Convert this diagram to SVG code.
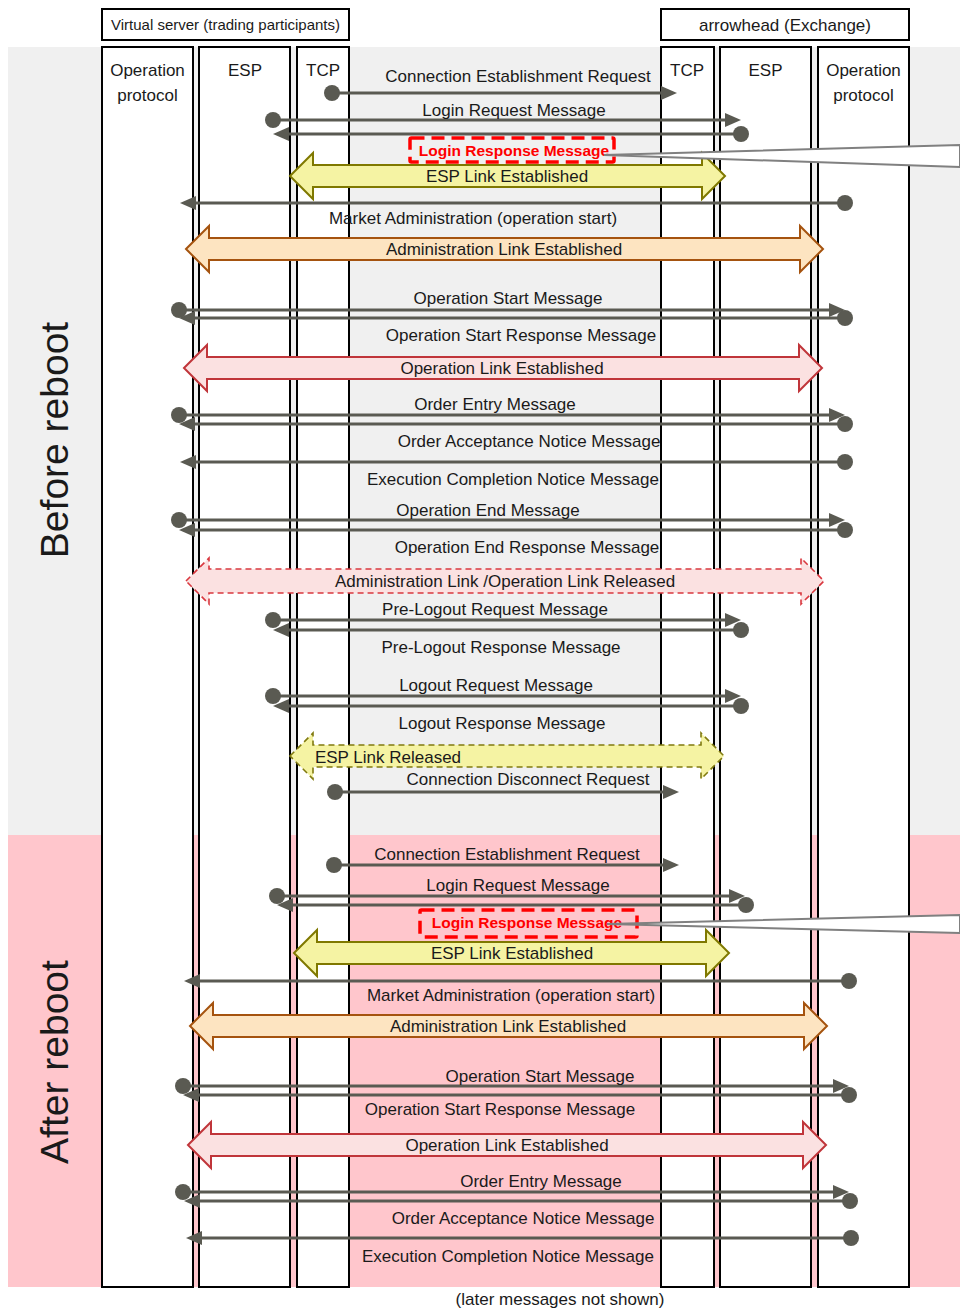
<svg xmlns="http://www.w3.org/2000/svg" width="960" height="1308" viewBox="0 0 960 1308">
  <style>
    text { font-family: "Liberation Sans", Arial, sans-serif; fill: #1a1a1a; }
    .msg { font-size: 17px; text-anchor: middle; }
    .lbl { font-size: 17px; text-anchor: middle; }
    .phase { font-size: 39px; text-anchor: middle; }
    .lane { fill: #ffffff; stroke: #000000; stroke-width: 2; }
    .hdr { fill: #ffffff; stroke: #000000; stroke-width: 2; }
    .line { stroke: #5a5a52; stroke-width: 3; fill: none; marker-start: url(#dot); marker-end: url(#tri); }
    .esp { fill: #f5f3a3; stroke: #7f7800; stroke-width: 2; }
    .adm { fill: #fde4c1; stroke: #a5530f; stroke-width: 2; }
    .opl { fill: #fbe1e1; stroke: #c0353a; stroke-width: 2; }
    .rel-op { fill: #fbe1e1; stroke: #d9383f; stroke-width: 1.6; stroke-dasharray: 6 4; }
    .rel-esp { fill: #f5f3a3; stroke: #807a10; stroke-width: 1.6; stroke-dasharray: 6 4; }
    .hl { fill: none; stroke: #ff0000; stroke-width: 3.5; stroke-dasharray: 13 7; }
    .hlt { font-size: 15.5px; font-weight: bold; fill: #ff0000; text-anchor: middle; }
    .callout { fill: #ffffff; stroke: #808080; stroke-width: 2; stroke-linejoin: miter; }
  </style>
  <defs>
    <marker id="tri" markerUnits="userSpaceOnUse" markerWidth="16" markerHeight="14" refX="6" refY="7" orient="auto">
      <path d="M0,0 L16,7 L0,14 Z" fill="#5a5a52"/>
    </marker>
    <marker id="dot" markerUnits="userSpaceOnUse" markerWidth="16" markerHeight="16" refX="8" refY="8" orient="auto">
      <circle cx="8" cy="8" r="8" fill="#5a5a52"/>
    </marker>
  </defs>

  <!-- phase backgrounds -->
  <g id="phases">
    <rect x="8" y="47" width="952" height="788" fill="#f0f0f0"/>
    <rect x="8" y="835" width="952" height="452" fill="#ffc6cc"/>
    <text class="phase" transform="translate(68,440) rotate(-90)">Before reboot</text>
    <text class="phase" transform="translate(68,1062) rotate(-90)">After reboot</text>
  </g>

  <!-- system headers -->
  <g id="participant-header">
    <rect class="hdr" x="102" y="9" width="247" height="31"/>
    <text x="225.5" y="30" style="font-size:15px;text-anchor:middle">Virtual server (trading participants)</text>
  </g>
  <g id="exchange-header">
    <rect class="hdr" x="661" y="9" width="248" height="31"/>
    <text x="785" y="31" style="font-size:17px;text-anchor:middle">arrowhead (Exchange)</text>
  </g>

  <!-- lanes -->
  <g id="lane-op-left">
    <rect class="lane" x="102" y="47" width="91" height="1240"/>
    <text class="lbl" x="147.5" y="76">Operation</text>
    <text class="lbl" x="147.5" y="101">protocol</text>
  </g>
  <g id="lane-esp-left">
    <rect class="lane" x="199" y="47" width="91" height="1240"/>
    <text class="lbl" x="245" y="76">ESP</text>
  </g>
  <g id="lane-tcp-left">
    <rect class="lane" x="297" y="47" width="52" height="1240"/>
    <text class="lbl" x="323" y="76">TCP</text>
  </g>
  <g id="lane-tcp-right">
    <rect class="lane" x="661" y="47" width="53" height="1240"/>
    <text class="lbl" x="687" y="76">TCP</text>
  </g>
  <g id="lane-esp-right">
    <rect class="lane" x="720" y="47" width="91" height="1240"/>
    <text class="lbl" x="765.5" y="76">ESP</text>
  </g>
  <g id="lane-op-right">
    <rect class="lane" x="818" y="47" width="91" height="1240"/>
    <text class="lbl" x="863.5" y="76">Operation</text>
    <text class="lbl" x="863.5" y="101">protocol</text>
  </g>

  <!-- link state bands -->
  <g id="links">
    <path class="esp" d="M290,176 L313,153 L313,165 L702,165 L702,153 L725,176 L702,199 L702,187 L313,187 L313,199 Z"/>
    <path class="adm" d="M186,249 L209,226 L209,238 L800,238 L800,226 L823,249 L800,272 L800,260 L209,260 L209,272 Z"/>
    <path class="opl" d="M184,368 L207,345 L207,357 L799,357 L799,345 L822,368 L799,391 L799,379 L207,379 L207,391 Z"/>
    <path class="rel-op" d="M186,581 L209,558 L209,569 L801,569 L801,558 L824,581 L801,604 L801,593 L209,593 L209,604 Z"/>
    <path class="rel-esp" d="M290,756 L313,733 L313,745 L701,745 L701,733 L724,756 L701,779 L701,767 L313,767 L313,779 Z"/>
    <path class="esp" d="M294,953 L317,930 L317,942 L706,942 L706,930 L729,953 L706,976 L706,964 L317,964 L317,976 Z"/>
    <path class="adm" d="M190,1026 L213,1003 L213,1015 L804,1015 L804,1003 L827,1026 L804,1049 L804,1037 L213,1037 L213,1049 Z"/>
    <path class="opl" d="M188,1145 L211,1122 L211,1134 L803,1134 L803,1122 L826,1145 L803,1168 L803,1156 L211,1156 L211,1168 Z"/>
  </g>

  <!-- message connectors -->
  <g id="connectors">
    <line class="line" x1="332" y1="93" x2="667" y2="93"/>
    <line class="line" x1="273" y1="120" x2="731" y2="120"/>
    <line class="line" x1="741" y1="134" x2="283" y2="134"/>
    <line class="line" x1="845" y1="203" x2="190" y2="203"/>
    <line class="line" x1="179" y1="310" x2="835" y2="310"/>
    <line class="line" x1="845" y1="318" x2="189" y2="318"/>
    <line class="line" x1="179" y1="415" x2="835" y2="415"/>
    <line class="line" x1="845" y1="424" x2="189" y2="424"/>
    <line class="line" x1="845" y1="462" x2="190" y2="462"/>
    <line class="line" x1="179" y1="520" x2="835" y2="520"/>
    <line class="line" x1="845" y1="530" x2="189" y2="530"/>
    <line class="line" x1="273" y1="620" x2="731" y2="620"/>
    <line class="line" x1="741" y1="630" x2="283" y2="630"/>
    <line class="line" x1="273" y1="696" x2="731" y2="696"/>
    <line class="line" x1="741" y1="706" x2="283" y2="706"/>
    <line class="line" x1="335" y1="792" x2="669" y2="792"/>

    <line class="line" x1="334" y1="865" x2="669" y2="865"/>
    <line class="line" x1="277" y1="896" x2="735" y2="896"/>
    <line class="line" x1="746" y1="905" x2="287" y2="905"/>
    <line class="line" x1="849" y1="981" x2="194" y2="981"/>
    <line class="line" x1="183" y1="1086" x2="839" y2="1086"/>
    <line class="line" x1="849" y1="1095" x2="193" y2="1095"/>
    <line class="line" x1="183" y1="1192" x2="839" y2="1192"/>
    <line class="line" x1="850" y1="1201" x2="194" y2="1201"/>
    <line class="line" x1="851" y1="1238" x2="196" y2="1238"/>
  </g>

  <!-- highlighted login responses with callout pointers -->
  <g id="login-response-1">
    <rect class="hl" x="410" y="138" width="204" height="24" rx="1.5"/>
    <text class="hlt" x="514" y="156">Login Response Message</text>
    <polygon class="callout" points="604,155 960,145 960,167"/>
  </g>
  <g id="login-response-2">
    <rect class="hl" x="420" y="910" width="217" height="27" rx="1.5"/>
    <text class="hlt" x="527" y="928">Login Response Message</text>
    <polygon class="callout" points="607,924 960,915 960,933"/>
  </g>

  <!-- message labels -->
  <g id="labels">
    <text class="msg" x="518" y="82">Connection Establishment Request</text>
    <text class="msg" x="514" y="116">Login Request Message</text>
    <text class="msg" x="507" y="182">ESP Link Established</text>
    <text class="msg" x="473" y="224">Market Administration (operation start)</text>
    <text class="msg" x="504" y="255">Administration Link Established</text>
    <text class="msg" x="508" y="304">Operation Start Message</text>
    <text class="msg" x="521" y="341">Operation Start Response Message</text>
    <text class="msg" x="502" y="374">Operation Link Established</text>
    <text class="msg" x="495" y="410">Order Entry Message</text>
    <text class="msg" x="529" y="447">Order Acceptance Notice Message</text>
    <text class="msg" x="513" y="485">Execution Completion Notice Message</text>
    <text class="msg" x="488" y="516">Operation End Message</text>
    <text class="msg" x="527" y="553">Operation End Response Message</text>
    <text class="msg" x="505" y="587">Administration Link /Operation Link Released</text>
    <text class="msg" x="495" y="615">Pre-Logout Request Message</text>
    <text class="msg" x="501" y="653">Pre-Logout Response Message</text>
    <text class="msg" x="496" y="691">Logout Request Message</text>
    <text class="msg" x="502" y="729">Logout Response Message</text>
    <text class="msg" x="388" y="763">ESP Link Released</text>
    <text class="msg" x="528" y="785">Connection Disconnect Request</text>

    <text class="msg" x="507" y="860">Connection Establishment Request</text>
    <text class="msg" x="518" y="891">Login Request Message</text>
    <text class="msg" x="512" y="959">ESP Link Established</text>
    <text class="msg" x="511" y="1001">Market Administration (operation start)</text>
    <text class="msg" x="508" y="1032">Administration Link Established</text>
    <text class="msg" x="540" y="1082">Operation Start Message</text>
    <text class="msg" x="500" y="1115">Operation Start Response Message</text>
    <text class="msg" x="507" y="1151">Operation Link Established</text>
    <text class="msg" x="541" y="1187">Order Entry Message</text>
    <text class="msg" x="523" y="1224">Order Acceptance Notice Message</text>
    <text class="msg" x="508" y="1262">Execution Completion Notice Message</text>
    <text class="msg" x="560" y="1305">(later messages not shown)</text>
  </g>
</svg>
